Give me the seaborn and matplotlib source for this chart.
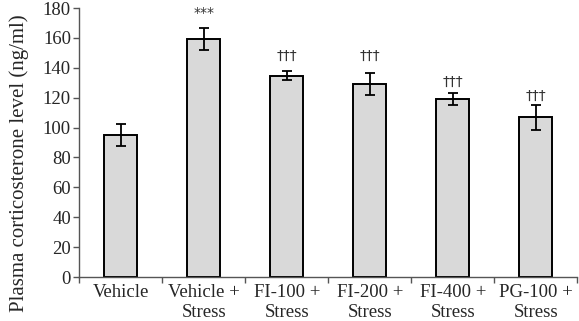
import matplotlib
matplotlib.use("Agg")
import matplotlib.pyplot as plt
import seaborn as sns
import pandas as pd
import numpy as np

categories = ["Vehicle", "Vehicle +\nStress", "FI-100 +\nStress", "FI-200 +\nStress", "FI-400 +\nStress", "PG-100 +\nStress"]
means = [95, 159.2, 134.7, 129.4, 119.4, 106.8]
sems = [7.3, 7.3, 3.0, 7.4, 4.0, 8.2]
marks = ["", "***", "†††", "†††", "†††", "†††"]
yticks = [0, 20, 40, 60, 80, 100, 120, 140, 160, 180]

sns.set_style("white")
plt.rcParams["font.family"] = ["Liberation Serif", "DejaVu Serif"]

df = pd.DataFrame({"group": categories, "value": means})

fig = plt.figure(figsize=(5.79, 3.21), dpi=100)
ax = fig.add_axes([0.137, 0.137, 0.86, 0.838])

sns.barplot(data=df, x="group", y="value", ax=ax, color="#d9d9d9",
            edgecolor="black", linewidth=1.4, width=0.4, errorbar=None,
            saturation=1)
x = np.arange(len(categories))
ax.errorbar(x, means, yerr=sems, fmt="none", ecolor="black", elinewidth=1.3,
            capsize=3.5, capthick=1.3)
offsets = [0, 10, 10, 11, 7, 6]
for xi, m, s, t, o in zip(x, means, sems, marks, offsets):
    if t:
        ax.text(xi, m + s + o, t, ha="center", va="center", fontsize=10,
                color="#333333", family=["DejaVu Sans"])

ax.set_xlim(-0.5, len(categories) - 0.5)
ax.set_ylim(0, 180)
ax.set_yticks(yticks)
ax.tick_params(axis="y", labelsize=13.5, length=4, width=1, direction="out",
               left=True, color="#555555", pad=2)
ax.set_xticks(x)
ax.set_xticks(np.arange(len(categories) + 1) - 0.5, minor=True)
ax.tick_params(axis="x", which="major", length=0, labelsize=13.5, pad=5)
ax.tick_params(axis="x", which="minor", length=4, width=1, color="#555555",
               bottom=True, direction="out")
ax.set_xlabel("")
ax.set_ylabel("Plasma corticosterone level (ng/ml)", fontsize=15)
ax.yaxis.set_label_coords(-0.102, 0.424)
for sp in ["top", "right"]:
    ax.spines[sp].set_visible(False)
for sp in ["left", "bottom"]:
    ax.spines[sp].set_color("#555555")
    ax.spines[sp].set_linewidth(1)

fig.savefig("out.png", dpi=100)
